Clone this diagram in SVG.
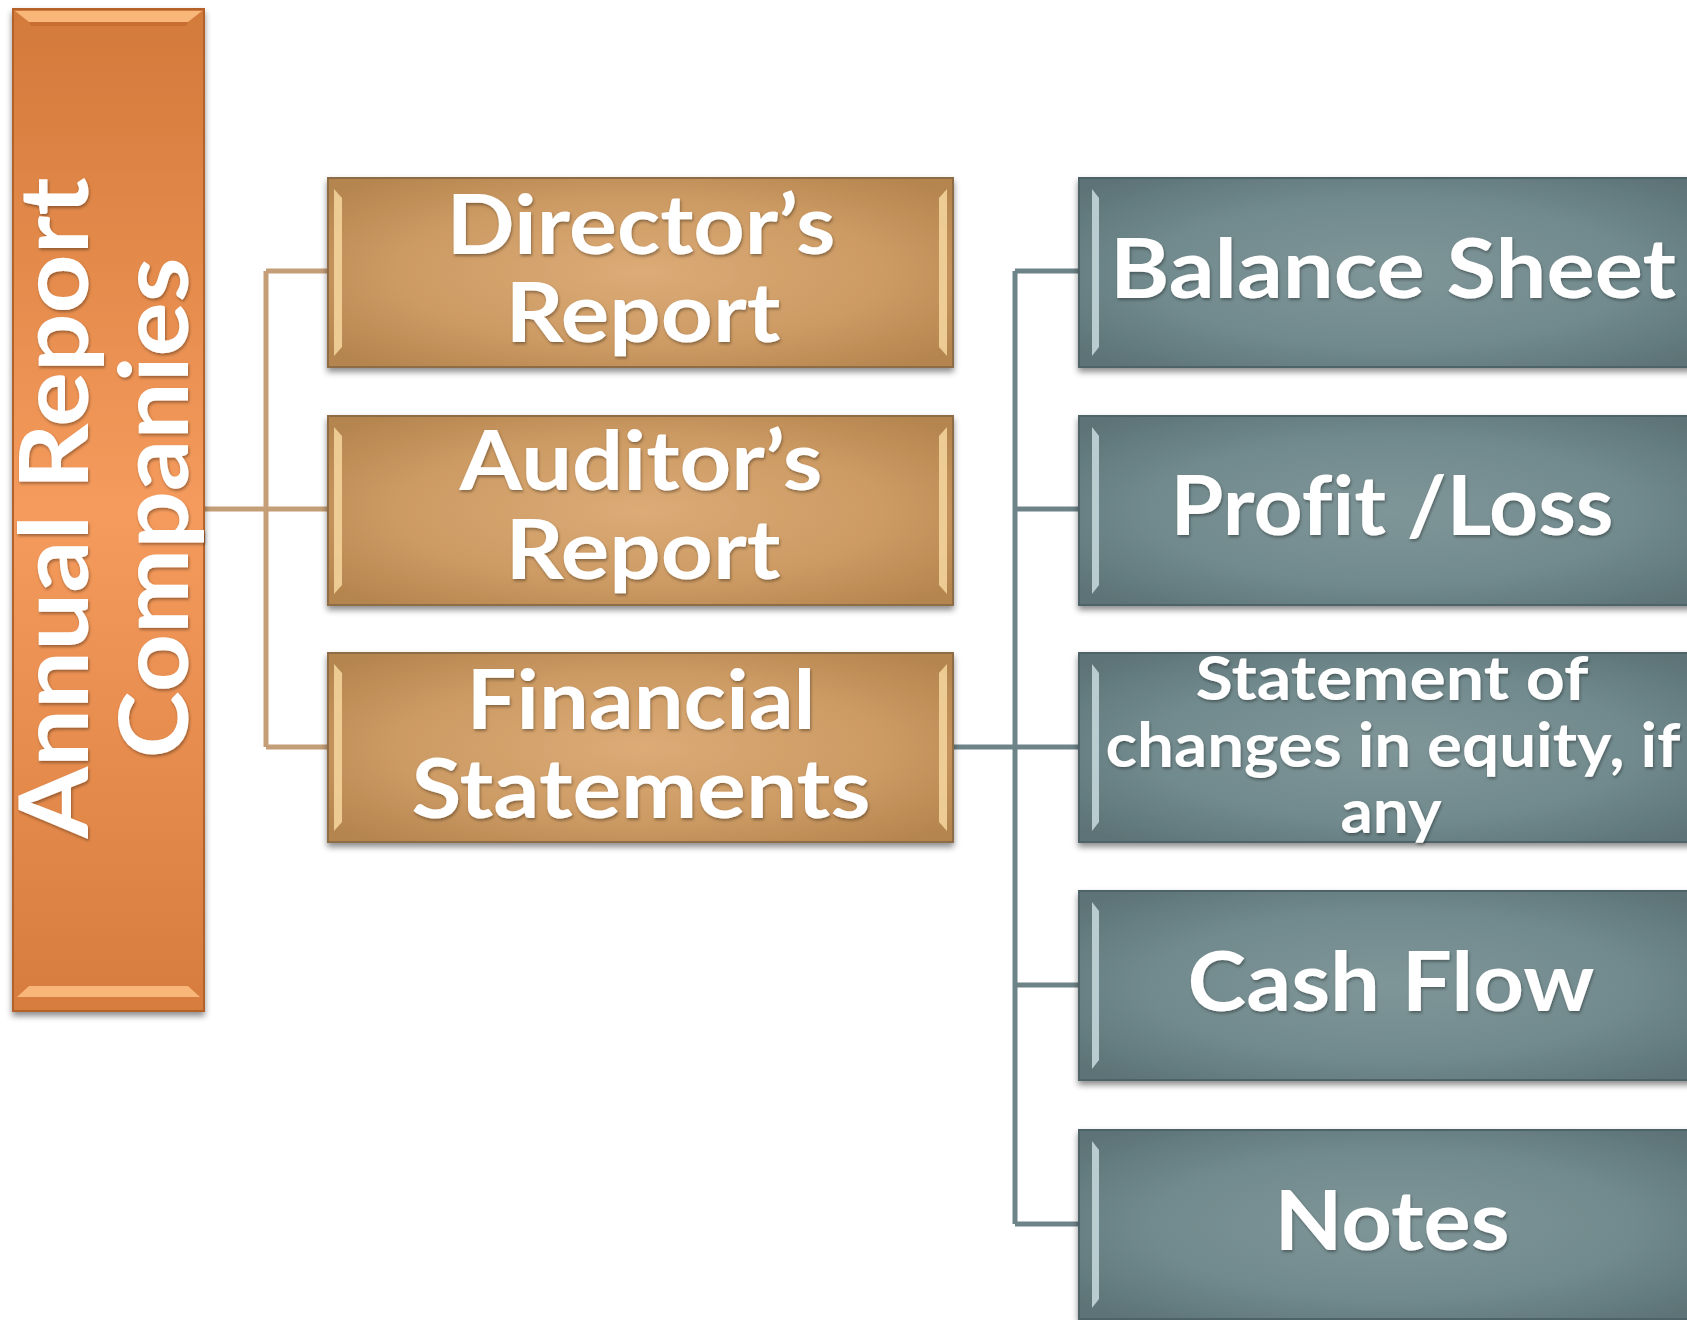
<svg xmlns="http://www.w3.org/2000/svg" width="1687" height="1320" viewBox="0 0 1687 1320">
<defs>
  <linearGradient id="gOrange" x1="0" y1="0" x2="0" y2="1">
    <stop offset="0" stop-color="#D27A3A"/>
    <stop offset="0.5" stop-color="#F59B5D"/>
    <stop offset="1" stop-color="#D67C3E"/>
  </linearGradient>
  <radialGradient id="gBrown" cx="0.5" cy="0.5" r="0.65">
    <stop offset="0" stop-color="#DCAB76"/>
    <stop offset="0.6" stop-color="#CC9A63"/>
    <stop offset="1" stop-color="#B5854F"/>
  </radialGradient>
  <radialGradient id="gBlue" cx="0.5" cy="0.5" r="0.65">
    <stop offset="0" stop-color="#7F9699"/>
    <stop offset="0.6" stop-color="#718A8D"/>
    <stop offset="1" stop-color="#5D7377"/>
  </radialGradient>
  <filter id="shadow" x="-10%" y="-10%" width="120%" height="125%">
    <feDropShadow dx="0" dy="4" stdDeviation="3" flood-color="#000" flood-opacity="0.45"/>
  </filter>
  <filter id="tshadow" x="-10%" y="-10%" width="120%" height="130%">
    <feDropShadow dx="1" dy="2" stdDeviation="1.5" flood-color="#000" flood-opacity="0.35"/>
  </filter>
</defs>
<style>
  .t { font-family: Lato, "Open Sans", "Liberation Sans", sans-serif; font-weight: 700; fill: #FFFFFF; text-anchor: middle; font-variant-ligatures: none; }
  .big { font-size: 82px; }
  .mid { font-size: 61px; }
  .vert { font-size: 96px; }
  .conB { stroke: #C39E77; stroke-width: 5; fill: none; }
  .conS { stroke: #6D8387; stroke-width: 5; fill: none; }
  .bOr { fill: url(#gOrange); stroke: #B4622A; stroke-width: 2; }
  .bBr { fill: url(#gBrown); stroke: #8E6C44; stroke-width: 2; }
  .bBl { fill: url(#gBlue); stroke: #4E6367; stroke-width: 2; }
  .hlOr { fill: #F8B679; }
  .dkOr { fill: #C46A30; opacity: 0.7; }
  .hlBr { fill: #F6D79F; opacity: 0.85; }
  .hlBl { fill: #B9CDD0; }
</style>

<g id="connectors">
  <path class="conB" d="M204,509 H328 M266,271 V747 M266,271 H328 M266,747 H328"/>
  <path class="conS" d="M953,747 H1079 M1015,271 V1224 M1015,271 H1079 M1015,509 H1079 M1015,985 H1079 M1015,1224 H1079"/>
</g>

<g id="annual-report" filter="url(#shadow)">
  <rect class="bOr" x="13" y="9" width="191" height="1002"/>
  <polygon class="hlOr" points="15,11 202,11 188,22 29,22"/>
  <polygon class="dkOr" points="29,22 188,22 186,26 31,26"/>
  <polygon class="hlOr" points="29,986 188,986 200,997 17,997"/>
</g>
<g id="annual-report-label" filter="url(#tshadow)">
  <text class="t vert" transform="translate(88,508) rotate(-90)" textLength="661" lengthAdjust="spacingAndGlyphs">Annual Report</text>
  <text class="t vert" transform="translate(188,508) rotate(-90)" textLength="501" lengthAdjust="spacingAndGlyphs">Companies</text>
</g>

<g id="directors-report">
  <rect class="bBr" x="328" y="178" width="625" height="189" filter="url(#shadow)"/>
  <polygon class="hlBr" points="334,189 342,198 342,347 334,356"/>
  <polygon class="hlBr" points="947,189 939,198 939,347 947,356"/>
  <g filter="url(#tshadow)">
    <text class="t big" x="641" y="254" textLength="389" lengthAdjust="spacingAndGlyphs">Director’s</text>
    <text class="t big" x="643" y="342" textLength="275" lengthAdjust="spacingAndGlyphs">Report</text>
  </g>
</g>

<g id="auditors-report">
  <rect class="bBr" x="328" y="416" width="625" height="189" filter="url(#shadow)"/>
  <polygon class="hlBr" points="334,427 342,436 342,585 334,594"/>
  <polygon class="hlBr" points="947,427 939,436 939,585 947,594"/>
  <g filter="url(#tshadow)">
    <text class="t big" x="641" y="490" textLength="363" lengthAdjust="spacingAndGlyphs">Auditor’s</text>
    <text class="t big" x="643" y="579" textLength="275" lengthAdjust="spacingAndGlyphs">Report</text>
  </g>
</g>

<g id="financial-statements">
  <rect class="bBr" x="328" y="653" width="625" height="189" filter="url(#shadow)"/>
  <polygon class="hlBr" points="334,664 342,673 342,822 334,831"/>
  <polygon class="hlBr" points="947,664 939,673 939,822 947,831"/>
  <g filter="url(#tshadow)">
    <text class="t big" x="641" y="729" textLength="349" lengthAdjust="spacingAndGlyphs">Financial</text>
    <text class="t big" x="641" y="818" textLength="459" lengthAdjust="spacingAndGlyphs">Statements</text>
  </g>
</g>

<g id="balance-sheet">
  <rect class="bBl" x="1079" y="178" width="625" height="189" filter="url(#shadow)"/>
  <polygon class="hlBl" points="1092,189 1099,198 1099,347 1092,356"/>
  <text class="t big" x="1393" y="298" textLength="566" lengthAdjust="spacingAndGlyphs" filter="url(#tshadow)">Balance Sheet</text>
</g>

<g id="profit-loss">
  <rect class="bBl" x="1079" y="416" width="625" height="189" filter="url(#shadow)"/>
  <polygon class="hlBl" points="1092,427 1099,436 1099,585 1092,594"/>
  <text class="t big" x="1392" y="535" textLength="443" lengthAdjust="spacingAndGlyphs" filter="url(#tshadow)">Profit /Loss</text>
</g>

<g id="statement-of-changes">
  <rect class="bBl" x="1079" y="653" width="625" height="189" filter="url(#shadow)"/>
  <polygon class="hlBl" points="1092,664 1099,673 1099,822 1092,831"/>
  <g filter="url(#tshadow)">
    <text class="t mid" x="1392" y="700" textLength="393" lengthAdjust="spacingAndGlyphs">Statement of</text>
    <text class="t mid" x="1393" y="767" textLength="575" lengthAdjust="spacingAndGlyphs">changes in equity, if</text>
    <text class="t mid" x="1391" y="833" textLength="101" lengthAdjust="spacingAndGlyphs">any</text>
  </g>
</g>

<g id="cash-flow">
  <rect class="bBl" x="1079" y="891" width="625" height="189" filter="url(#shadow)"/>
  <polygon class="hlBl" points="1092,902 1099,911 1099,1060 1092,1069"/>
  <text class="t big" x="1391" y="1011" textLength="407" lengthAdjust="spacingAndGlyphs" filter="url(#tshadow)">Cash Flow</text>
</g>

<g id="notes">
  <rect class="bBl" x="1079" y="1130" width="625" height="189" filter="url(#shadow)"/>
  <polygon class="hlBl" points="1092,1141 1099,1150 1099,1299 1092,1308"/>
  <text class="t big" x="1392" y="1250" textLength="235" lengthAdjust="spacingAndGlyphs" filter="url(#tshadow)">Notes</text>
</g>
</svg>
